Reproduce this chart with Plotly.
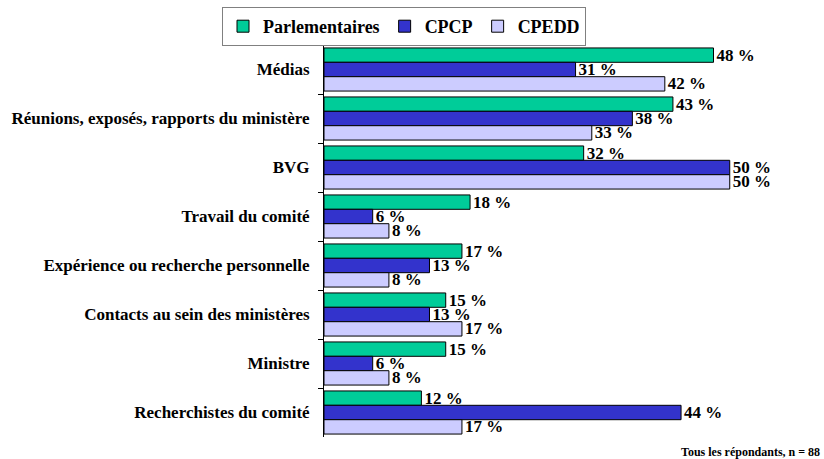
import plotly.graph_objects as go

categories = [
    "Médias",
    "Réunions, exposés, rapports du ministère",
    "BVG",
    "Travail du comité",
    "Expérience ou recherche personnelle",
    "Contacts au sein des ministères",
    "Ministre",
    "Recherchistes du comité",
]
parlementaires = [48, 43, 32, 18, 17, 15, 15, 12]
cpcp = [31, 38, 50, 6, 13, 13, 6, 44]
cpedd = [42, 33, 50, 8, 8, 17, 8, 17]

series = [
    ("Parlementaires", parlementaires, "#00CC99"),
    ("CPCP", cpcp, "#3333CC"),
    ("CPEDD", cpedd, "#CCCCFF"),
]

FONT = "Liberation Serif, Times New Roman, serif"

fig = go.Figure()
for name, vals, color in series:
    fig.add_trace(go.Bar(
        name=name,
        y=categories,
        x=vals,
        orientation="h",
        marker=dict(color=color, line=dict(color="black", width=1)),
        text=[f"{v} %" for v in vals],
        textposition="outside",
        textfont=dict(family=FONT, size=17, color="black", weight="bold"),
        constraintext="none",
        cliponaxis=False,
    ))

fig.update_layout(
    width=824,
    height=459,
    margin=dict(l=324, r=5, t=45, b=22, autoexpand=False),
    paper_bgcolor="white",
    plot_bgcolor="white",
    barmode="group",
    bargap=0.12,
    bargroupgap=0,
    font=dict(family=FONT, color="black"),
    legend=dict(
        orientation="h",
        x=(222 - 324) / 495, y=1 + (45 - 7) / 392,
        xanchor="left", yanchor="top",
        bordercolor="#808080", borderwidth=1,
        font=dict(family=FONT, size=18, color="black", weight="bold"),
        itemwidth=30,
        traceorder="normal",
    ),
    xaxis=dict(
        range=[0, 61],
        visible=False,
        showgrid=False,
        zeroline=False,
    ),
    yaxis=dict(
        autorange="reversed",
        automargin=False,
        showline=True,
        linecolor="black",
        linewidth=1,
        ticks="outside",
        tickson="boundaries",
        ticklen=5,
        tickcolor="black",
        ticklabelstandoff=10,
        tickfont=dict(family=FONT, size=17, color="black", weight="bold"),
        showgrid=False,
    ),
    annotations=[dict(
        text="Tous les répondants, n = 88",
        xref="paper", yref="paper",
        x=1, y=0,
        xanchor="right", yanchor="top",
        xshift=3, yshift=-6,
        showarrow=False,
        font=dict(family=FONT, size=12, color="black", weight="bold"),
    )],
)

fig.write_html(
    "out.html",
    config={"displayModeBar": False},
    post_script="document.body.style.margin='0';document.body.style.overflow='hidden';",
)
